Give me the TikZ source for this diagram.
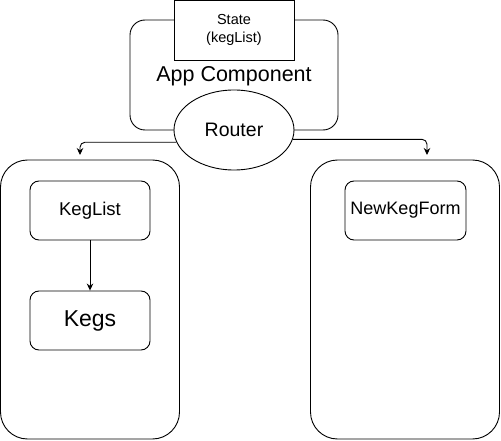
\documentclass[tikz,border=0pt]{standalone}
\usepackage{fontspec}
\setmainfont{Liberation Sans}
\usetikzlibrary{arrows.meta,positioning,shapes.geometric}

\begin{document}
\begin{tikzpicture}[
  x=1pt, y=-1pt, line width=0.9pt,
  comp/.style={draw, rounded corners=9pt, minimum width=120pt, minimum height=59pt,
    inner sep=0pt, fill=white},
  panel/.style={draw, rounded corners=27pt, minimum height=279pt, inner sep=0pt},
  >={Stealth[length=7pt,width=6.5pt]}, every edge/.style={draw, ->}]
  \useasboundingbox (0,0) rectangle (501,441);
  % app component with its state and router
  \node[draw, rounded corners=15pt, minimum width=208pt, minimum height=110pt] (app) at (234,75) {};
  \node[draw, fill=white, minimum width=120pt, minimum height=59.5pt, align=center,
    font=\fontsize{14.5}{18}\selectfont] (state) at (234,30.25) {State\\(kegList)};
  \node[font=\fontsize{21.5}{26}\selectfont] (title) at (234,76) {App Component};
  \node[draw, ellipse, fill=white, minimum width=120pt, minimum height=80pt, inner sep=0pt,
    font=\fontsize{19.5}{24}\selectfont] (router) at (234,130) {Router};
  % routes
  \node[panel, minimum width=179pt] (left) at (90,299.5) {};
  \node[panel, minimum width=189pt] (right) at (405,299.5) {};
  \node[comp, font=\fontsize{18.5}{22}\selectfont] (keglist) at (90,210.5) {KegList};
  \node[comp, font=\fontsize{23}{28}\selectfont] (kegs) at (90,320.5) {Kegs};
  \node[comp, minimum width=121pt, font=\fontsize{18}{22}\selectfont] (newkeg) at (405.5,210.5) {NewKegForm};
  \coordinate (lend) at (80,155);
  \coordinate (rend) at (427,155);
  \draw[->, rounded corners=5pt] (router.192) -| (lend);
  \draw[->, rounded corners=5pt] (router.351) -| (rend);
  \draw (keglist) edge (kegs);
\end{tikzpicture}
\end{document}
